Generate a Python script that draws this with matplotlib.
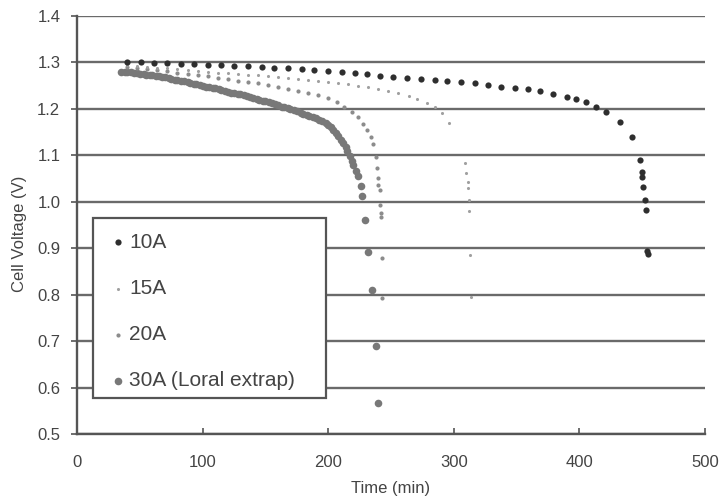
import matplotlib
matplotlib.use("Agg")
import matplotlib.pyplot as plt
from matplotlib.patches import Rectangle

# 10A
t10 = [40, 51, 61, 72, 83, 93, 104, 115, 125, 136, 147, 157, 168, 179, 189, 200,
       211, 221, 231, 241, 252, 263, 274, 285, 295, 306, 317, 327, 338, 349, 359,
       369, 379, 390, 397, 405, 413, 421, 432, 442, 448, 450, 450, 451, 452, 453,
       454, 455]
v10 = [1.300, 1.300, 1.299, 1.298, 1.297, 1.296, 1.295, 1.294, 1.293, 1.292, 1.290,
       1.289, 1.288, 1.286, 1.284, 1.282, 1.280, 1.278, 1.275, 1.271, 1.269, 1.266,
       1.264, 1.262, 1.260, 1.258, 1.255, 1.251, 1.247, 1.245, 1.243, 1.238, 1.232,
       1.226, 1.221, 1.215, 1.204, 1.193, 1.172, 1.139, 1.090, 1.064, 1.053, 1.032,
       1.003, 0.982, 0.893, 0.887]

# 15A
t15 = [40, 48, 56, 64, 72, 80, 88, 96, 104, 112, 120, 128, 136, 144, 152, 160, 168,
       176, 184, 192, 200, 208, 216, 224, 232, 240, 248, 256, 264, 271, 279, 285,
       291, 296, 309, 310, 311, 311, 312, 312, 313, 314]
v15 = [1.295, 1.293, 1.291, 1.289, 1.287, 1.285, 1.283, 1.281, 1.280, 1.278, 1.277,
       1.275, 1.274, 1.272, 1.270, 1.268, 1.266, 1.264, 1.262, 1.260, 1.258, 1.256,
       1.253, 1.250, 1.247, 1.243, 1.239, 1.234, 1.228, 1.222, 1.213, 1.204, 1.192,
       1.170, 1.083, 1.062, 1.042, 1.029, 1.003, 0.981, 0.885, 0.795]

# 20A
t20 = [40, 48, 56, 64, 72, 80, 88, 96, 104, 112, 120, 128, 136, 144, 152, 160, 168,
       176, 184, 192, 200, 207, 213, 219, 224, 228, 231, 234, 236, 238, 239, 240,
       240, 241, 241, 242, 242, 243, 243]
v20 = [1.290, 1.288, 1.286, 1.283, 1.281, 1.278, 1.276, 1.273, 1.270, 1.267, 1.264,
       1.261, 1.258, 1.255, 1.251, 1.247, 1.243, 1.239, 1.235, 1.230, 1.223, 1.214,
       1.205, 1.194, 1.182, 1.168, 1.155, 1.140, 1.124, 1.096, 1.072, 1.051, 1.036,
       1.025, 0.993, 0.975, 0.967, 0.879, 0.792]

# 30A (Loral extrap)
t30 = [35, 38, 40, 43, 45, 48, 50, 53, 55, 58, 60, 63, 65, 68, 70, 73, 75, 78, 80,
       83, 85, 88, 90, 93, 95, 98, 100, 103, 105, 108, 110, 113, 115, 118, 120, 123,
       125, 128, 130, 133, 135, 138, 140, 143, 145, 148, 150, 153, 155, 158, 160,
       163, 165, 168, 170, 173, 175, 178, 180, 183, 185, 188, 190, 193, 195, 198,
       200, 202, 204, 206, 208, 210, 212, 214, 215, 217, 219, 220, 222, 224, 226,
       227, 229, 232, 235, 238, 240]
v30 = [1.280, 1.280, 1.279, 1.279, 1.278, 1.277, 1.276, 1.275, 1.274, 1.273, 1.272,
       1.271, 1.270, 1.269, 1.268, 1.266, 1.265, 1.263, 1.262, 1.260, 1.259, 1.257,
       1.256, 1.254, 1.253, 1.251, 1.250, 1.248, 1.247, 1.245, 1.244, 1.242, 1.241,
       1.239, 1.237, 1.235, 1.234, 1.232, 1.231, 1.229, 1.228, 1.226, 1.224, 1.222,
       1.220, 1.218, 1.216, 1.214, 1.212, 1.210, 1.208, 1.205, 1.203, 1.201, 1.199,
       1.197, 1.195, 1.192, 1.190, 1.187, 1.185, 1.182, 1.180, 1.176, 1.173, 1.169,
       1.165, 1.160, 1.155, 1.149, 1.142, 1.134, 1.126, 1.117, 1.110, 1.098, 1.088,
       1.080, 1.066, 1.055, 1.035, 1.012, 0.960, 0.891, 0.810, 0.690, 0.566]

x_ticks = [0, 100, 200, 300, 400, 500]
y_ticks = [0.5, 0.6, 0.7, 0.8, 0.9, 1.0, 1.1, 1.2, 1.3, 1.4]

plt.rcParams['font.family'] = ['Liberation Sans', 'DejaVu Sans']

fig = plt.figure(figsize=(7.23, 5), dpi=100)
ax = fig.add_axes([0.1065, 0.132, 0.8685, 0.836])

for y in y_ticks:
    ax.axhline(y, color='#6a6a6a', lw=1.7, zorder=1)

s30 = ax.scatter(t30, v30, s=30, color='#787878', lw=0, zorder=3, label='30A (Loral extrap)')
s20 = ax.scatter(t20, v20, s=9, color='#8c8c8c', lw=0, zorder=4, label='20A')
s15 = ax.scatter(t15, v15, s=5, color='#a0a0a0', lw=0, zorder=4, label='15A')
s10 = ax.scatter(t10, v10, s=20, color='#2e2e2e', lw=0, zorder=5, label='10A')

ax.set_xlim(0, 500)
ax.set_ylim(0.5, 1.4)
ax.set_xticks(x_ticks)
ax.set_yticks(y_ticks)
ax.set_yticklabels(['%.1f' % y for y in y_ticks])
ax.tick_params(axis='x', direction='in', length=4, width=1.2, colors='#555555',
               labelsize=12, labelcolor='#444444', pad=15)
ax.tick_params(axis='y', direction='out', length=4, width=1.2, colors='#555555',
               labelsize=12, labelcolor='#444444', pad=8)

for side in ['top', 'right']:
    ax.spines[side].set_visible(False)
for side in ['left', 'bottom']:
    ax.spines[side].set_color('#555555')
    ax.spines[side].set_linewidth(1.7)

ax.set_xlabel('Time (min)', fontsize=12, color='#444444', labelpad=8)
ax.set_ylabel('Cell Voltage (V)', fontsize=12, color='#444444')
ax.yaxis.set_label_coords(-0.08, 0.48)

# legend box drawn separately so its size matches
box = Rectangle((0.0255, 0.086), 0.371, 0.431, transform=ax.transAxes,
                facecolor='white', edgecolor='#555555', lw=1.6, zorder=6)
ax.add_patch(box)
leg = ax.legend(handles=[s10, s15, s20, s30], loc='upper left',
                bbox_to_anchor=(0.022, 0.521), frameon=False,
                fontsize=15, labelspacing=1.3, handletextpad=0.05,
                handlelength=1.0, borderpad=0.3)
leg.set_zorder(7)
for txt in leg.get_texts():
    txt.set_color('#444444')

fig.savefig('out.png', dpi=100)
